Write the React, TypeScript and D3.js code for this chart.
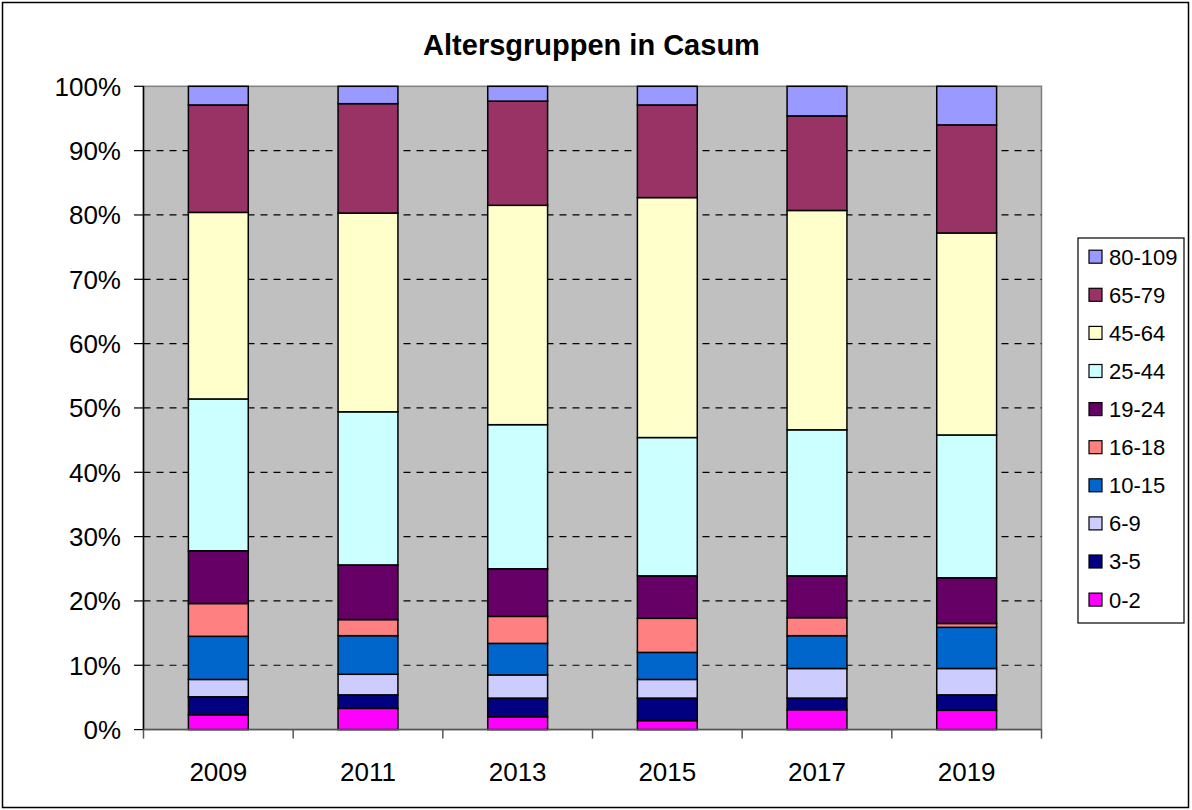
import React from "react";
import * as d3 from "d3";

const years = ["2009", "2011", "2013", "2015", "2017", "2019"];
const groups = ["0-2", "3-5", "6-9", "10-15", "16-18", "19-24", "25-44", "45-64", "65-79", "80-109"];
const colors = ["#FF00FF", "#000080", "#CCCCFF", "#0066CC", "#FF8080", "#660066", "#CCFFFF", "#FFFFCC", "#993366", "#9999FF"];

const v0_2 = [2.3, 3.3, 2.0, 1.4, 3.1, 3.0];
const v3_5 = [2.8, 2.1, 2.9, 3.5, 1.8, 2.4];
const v6_9 = [2.7, 3.2, 3.6, 2.9, 4.6, 4.1];
const v10_15 = [6.7, 6.0, 4.9, 4.2, 5.1, 6.4];
const v16_18 = [5.1, 2.5, 4.2, 5.3, 2.8, 0.6];
const v19_24 = [8.2, 8.5, 7.4, 6.6, 6.5, 7.1];
const v25_44 = [23.6, 23.8, 22.4, 21.5, 22.7, 22.2];
const v45_64 = [29.0, 30.9, 34.1, 37.3, 34.1, 31.4];
const v65_79 = [16.7, 17.0, 16.2, 14.4, 14.7, 16.8];
const v80_109 = [2.9, 2.7, 2.3, 2.9, 4.6, 6.0];

const seriesValues = [v0_2, v3_5, v6_9, v10_15, v16_18, v19_24, v25_44, v45_64, v65_79, v80_109];
const yTicks = [0, 0.1, 0.2, 0.3, 0.4, 0.5, 0.6, 0.7, 0.8, 0.9, 1.0];
const title = "Altersgruppen in Casum";

export default function App() {
  const W = 1192, H = 810;
  const left = 143.5, right = 1041.5, top = 86.3, bottom = 729.6;
  const font = "'Liberation Sans', Arial, Helvetica, sans-serif";

  const rows = years.map((y, i) => {
    const r: any = { year: y };
    groups.forEach((g, j) => (r[g] = seriesValues[j][i]));
    return r;
  });
  const stacked = d3.stack<any>().keys(groups).offset(d3.stackOffsetExpand)(rows);

  const x = d3.scaleBand().domain(years).range([left, right]).paddingInner(0.6).paddingOuter(0.3);
  const y = d3.scaleLinear().domain([0, 1]).range([bottom, top]);
  const step = x.step();
  const catW = (right - left) / years.length;

  const legendX = 1078, legendY = 238, legendW = 106, legendH = 385;
  const rowH = 38.1;
  const legendOrder = groups.slice().reverse();
  const colorOf = (g: string) => colors[groups.indexOf(g)];

  return (
    <>
      <style>{"body{margin:0;}"}</style>
      <svg width={W} height={H} style={{ display: "block" }} fontFamily={font}>
        <rect x={0} y={0} width={W} height={H} fill="#fff" />
        <rect x={2.5} y={2.5} width={1186} height={805} fill="#fff" stroke="#000" strokeWidth={1.5} />
        <text x={591.5} y={55} textAnchor="middle" fontWeight="bold" fontSize={29} fill="#000">{title}</text>

        <rect x={left} y={top} width={right - left} height={bottom - top} fill="#C0C0C0" stroke="#808080" strokeWidth={1.5} />
        {yTicks.filter(t => t > 0 && t < 1).map(t => (
          <line key={t} x1={left} x2={right} y1={y(t)} y2={y(t)} stroke="#000" strokeWidth={1.2} strokeDasharray="7,6" />
        ))}

        {stacked.map((s, si) => (
          <g key={groups[si]}>
            {s.map((d: any, i: number) => (
              <rect key={i} x={x(years[i])!} y={y(d[1])} width={x.bandwidth()} height={y(d[0]) - y(d[1])}
                fill={colors[si]} stroke="#000" strokeWidth={1.5} />
            ))}
          </g>
        ))}

        <line x1={left} x2={left} y1={top} y2={bottom} stroke="#000" strokeWidth={1.5} />
        <line x1={left} x2={right} y1={bottom} y2={bottom} stroke="#555" strokeWidth={1.5} />
        {yTicks.map(t => (
          <g key={t}>
            <line x1={134} x2={left} y1={y(t)} y2={y(t)} stroke="#000" strokeWidth={1.2} />
            <text x={121} y={y(t)} dy="0.36em" textAnchor="end" fontSize={26} fill="#000">{d3.format(".0%")(t)}</text>
          </g>
        ))}
        {d3.range(years.length + 1).map(i => (
          <line key={i} x1={left + i * catW} x2={left + i * catW} y1={bottom} y2={bottom + 9} stroke="#555" strokeWidth={1.5} />
        ))}
        {years.map(yr => (
          <text key={yr} x={x(yr)! + x.bandwidth() / 2} y={781} textAnchor="middle" fontSize={26} fill="#000">{yr}</text>
        ))}

        <rect x={legendX} y={legendY} width={legendW} height={legendH} fill="#fff" stroke="#000" strokeWidth={1.2} />
        {legendOrder.map((g, i) => {
          const cy = legendY + 18.7 + i * rowH;
          return (
            <g key={g}>
              <rect x={1089} y={cy - 6.5} width={13} height={13} fill={colorOf(g)} stroke="#000" strokeWidth={1.2} />
              <text x={1109} y={cy} dy="0.36em" fontSize={22} fill="#000">{g}</text>
            </g>
          );
        })}
      </svg>
    </>
  );
}
